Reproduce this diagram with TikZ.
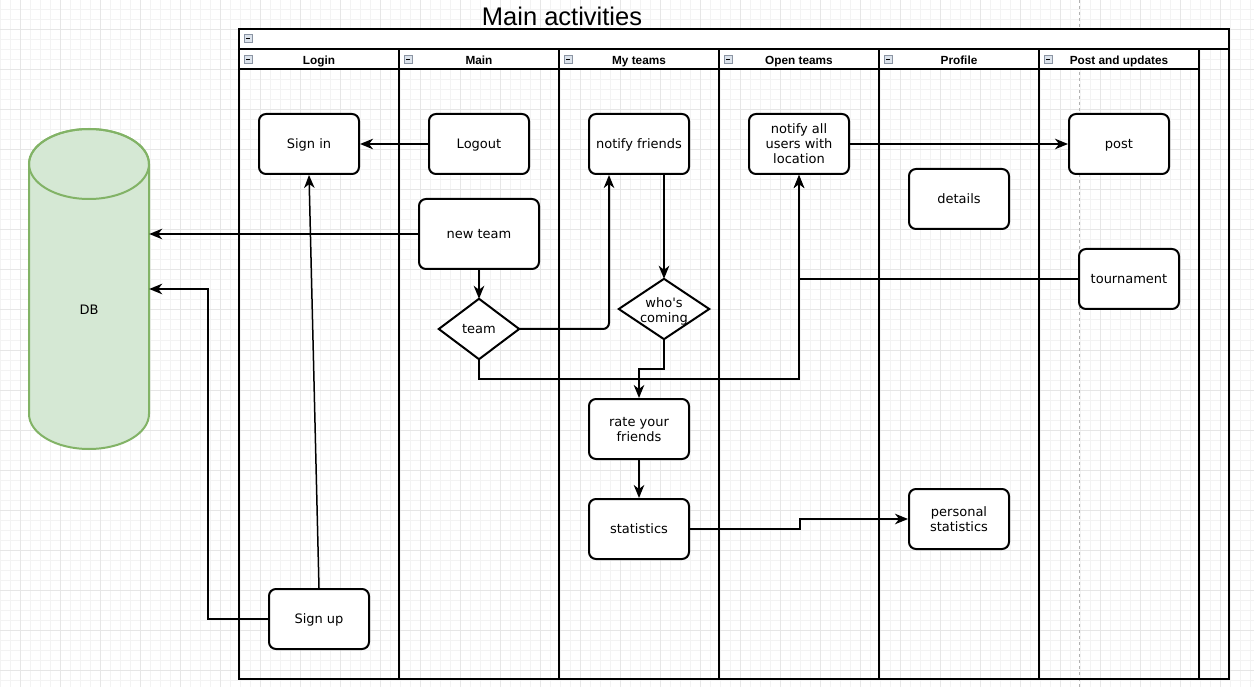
\documentclass[tikz,border=0pt]{standalone}
\usepackage{fontspec}
\setmainfont{DejaVu Sans}[Ligatures=TeXReset]
\newfontfamily\arialfont{Liberation Sans}
\usetikzlibrary{arrows.meta}
\definecolor{dbfill}{HTML}{D5E8D4}
\definecolor{dbline}{HTML}{82B366}
\definecolor{gridmajor}{HTML}{E6E6E6}
\definecolor{gridminor}{HTML}{F3F3F3}
\definecolor{iconfill}{HTML}{DCE3EC}
\definecolor{iconline}{HTML}{8A94A3}
\tikzset{
  box/.style={draw, line width=2pt, rounded corners=7pt, fill=white, minimum width=100pt, minimum height=60pt, inner sep=1pt, align=center, text depth=0pt, font=\fontsize{13}{15}\selectfont},
  diabox/.style={inner sep=0pt, align=center, text depth=0pt, font=\fontsize{13}{15}\selectfont},
  conn/.style={draw, line width=2pt, -{Stealth[length=13pt,width=10.5pt,inset=4pt]}},
  lanehead/.style={font=\arialfont\bfseries\fontsize{11.8}{13}\selectfont, anchor=base},
  laneline/.style={line width=2pt},
  minusicon/.style={fill=iconfill, draw=iconline, line width=0.8pt},
}
\begin{document}
\begin{tikzpicture}[x=1pt,y=-1pt]
\useasboundingbox (0,0) rectangle (1254,687);
\fill[white] (0,0) rectangle (1254,687);
% grid
\foreach \i in {0,10,...,1250} \draw[gridminor, line width=1pt] (\i,0) -- (\i,687);
\foreach \j in {0,10,...,680} \draw[gridminor, line width=1pt] (0,\j) -- (1254,\j);
\foreach \i in {20,60,...,1250} \draw[gridmajor, line width=1pt] (\i,0) -- (\i,687);
\foreach \j in {30,70,...,680} \draw[gridmajor, line width=1pt] (0,\j) -- (1254,\j);
% page break line
\draw[gray!60, line width=0.8pt, dash pattern=on 3pt off 3pt] (1079,0) -- (1079,687);
% title
\node[font=\arialfont\fontsize{25.5}{28}\selectfont, anchor=base] (title) at (562,26) {Main activities};
% swimlane container
\filldraw[fill=white, laneline] (239,29) rectangle (1229,49);
\foreach \x/\name in {239/Login,399/Main,559/My teams,719/Open teams,879/Profile,1039/Post and updates}{
  \filldraw[fill=white, laneline] (\x,49) rectangle (\x+160,69);
  \node[lanehead] at (\x+80,65) {\name};
  \draw[minusicon] (\x+5,55) rectangle (\x+13,63);
  \draw[line width=0.9pt] (\x+6.8,59) -- (\x+11.2,59);
}
\draw[minusicon] (244,34) rectangle (252,42);
\draw[line width=0.9pt] (245.8,38) -- (250.2,38);
\foreach \x in {399,559,719,879,1039,1199} \draw[laneline] (\x,49) -- (\x,679);
\draw[laneline] (239,29) rectangle (1229,679);
% DB cylinder
\filldraw[fill=dbfill, draw=dbline, line width=2pt] (29,164) -- (29,414) arc[start angle=180, end angle=0, x radius=60, y radius=35] -- (149,164) arc[start angle=0, end angle=-180, x radius=60, y radius=35] -- cycle;
\draw[dbline, line width=2pt] (89,164) ellipse [x radius=60, y radius=35];
\node[minimum width=120pt, minimum height=320pt, inner sep=0pt] (db) at (89,289) {};
\node[font=\fontsize{13}{15}\selectfont, text depth=0pt] (dblabel) at (89,310) {DB};
% nodes
\node[box] (signin) at (309,144) {Sign in};
\node[box] (logout) at (479,144) {Logout};
\node[box] (notifyf) at (639,144) {notify friends};
\node[box] (notifyall) at (799,144) {notify all\\users with\\location};
\node[box] (post) at (1119,144) {post};
\node[box] (details) at (959,199) {details};
\node[box, minimum width=120pt, minimum height=70pt] (newteam) at (479,234) {new team};
\node[box] (tourn) at (1129,279) {tournament};
\node[diabox, minimum width=80pt, minimum height=60pt] (team) at (479,329) {};
\draw[line width=2pt, fill=white] (team.north) -- (team.east) -- (team.south) -- (team.west) -- cycle;
\node[diabox] (teamlabel) at (479,329) {team};
\node[diabox, minimum width=90pt, minimum height=60pt] (who) at (664,309) {};
\draw[line width=2pt, fill=white] (who.north) -- (who.east) -- (who.south) -- (who.west) -- cycle;
\node[diabox] (wholabel) at (664,310) {who's\\coming};
\node[box] (rate) at (639,429) {rate your\\friends};
\node[box] (stats) at (639,529) {statistics};
\node[box] (pstats) at (959,519) {personal\\statistics};
\node[box] (signup) at (319,619) {Sign up};
% connectors
\draw[conn] (logout) -- (signin);
\draw[conn, line width=1.5pt] (signup.north) -- (signin.south);
\draw[conn] (newteam.west) -- (db.east |- newteam.west);
\draw[conn] (signup.west) -- ++(-60,0) |- (db.east);
\draw[conn] (newteam) -- (team);
\draw[conn, rounded corners=6pt] (team.east) -| ([xshift=-30pt]notifyf.south);
\draw[conn] (team.south) -- ++(0,20) -| (notifyall.south);
\draw[conn] ([xshift=25pt]notifyf.south) -- (who.north);
\draw[conn] (who.south) -- ++(0,30) -| (rate.north);
\draw[conn] (rate) -- (stats);
\draw[conn] (stats.east) -- ++(110,0) |- (pstats.west);
\draw[conn] (notifyall) -- (post);
\draw[conn] (tourn.west) -| (notifyall.south);
\end{tikzpicture}
\end{document}
